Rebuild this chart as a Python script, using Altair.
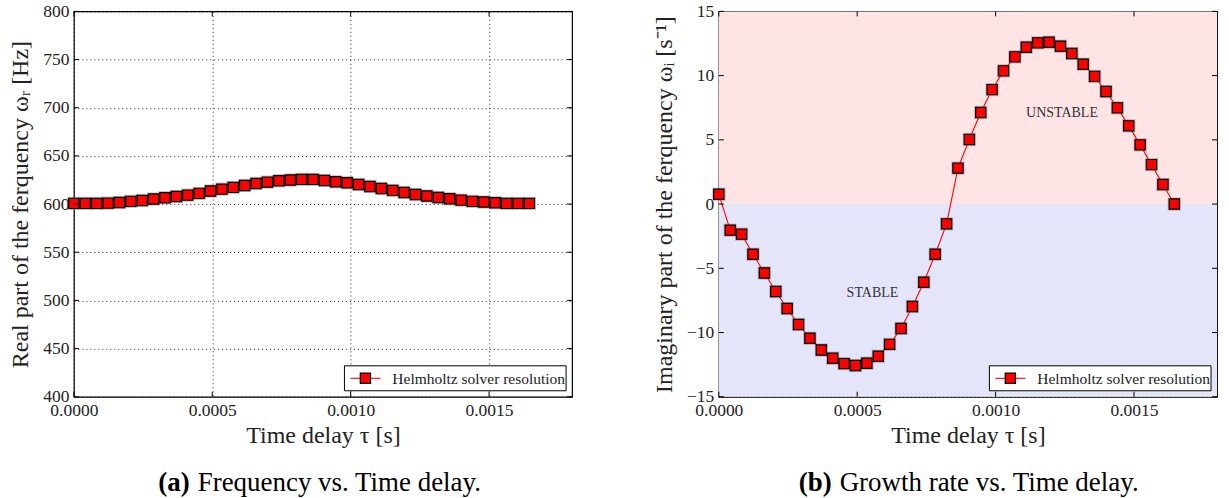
import altair as alt
import pandas as pd

# ---------------- data ----------------
tau = [0.0, 0.0000411, 0.0000823, 0.0001234, 0.0001646, 0.0002057, 0.0002469,
       0.0002880, 0.0003291, 0.0003703, 0.0004114, 0.0004526, 0.0004937,
       0.0005349, 0.0005760, 0.0006171, 0.0006583, 0.0006994, 0.0007406,
       0.0007817, 0.0008229, 0.0008640, 0.0009051, 0.0009463, 0.0009874,
       0.0010286, 0.0010697, 0.0011109, 0.0011520, 0.0011931, 0.0012343,
       0.0012754, 0.0013166, 0.0013577, 0.0013989, 0.0014400, 0.0014811,
       0.0015223, 0.0015634, 0.0016046, 0.0016457]

freq_real = [600.7, 600.7, 600.7, 601.0, 601.7, 602.8, 603.8, 605.2, 606.6,
             607.9, 609.3, 611.1, 613.5, 615.5, 617.3, 619.3, 621.4, 622.8,
             624.2, 624.9, 625.6, 625.6, 624.5, 623.1, 622.1, 620.4, 618.3,
             616.2, 614.2, 612.1, 610.0, 608.3, 606.9, 605.5, 604.1, 602.8,
             602.1, 601.4, 600.7, 600.7, 600.7]

growth = [0.76, -2.03, -2.34, -3.91, -5.36, -6.81, -8.13, -9.37, -10.45,
          -11.36, -12.0, -12.42, -12.57, -12.39, -11.85, -10.92, -9.68, -7.97,
          -6.08, -3.91, -1.54, 2.8, 5.03, 7.13, 8.91, 10.37, 11.46, 12.21,
          12.55, 12.6, 12.29, 11.72, 10.89, 9.94, 8.76, 7.49, 6.09, 4.61,
          3.07, 1.52, 0.0]

x_ticks = [0.0, 0.0005, 0.0010, 0.0015]
y_ticks_a = [400, 450, 500, 550, 600, 650, 700, 750, 800]
y_ticks_b = [-15, -10, -5, 0, 5, 10, 15]
legend_label = "Helmholtz solver resolution"
regions = [{"label": "UNSTABLE", "lo": 0, "hi": 15, "color": "#fee4e4",
            "tx": 0.00124, "ty": 7.1},
           {"label": "STABLE", "lo": -15, "hi": 0, "color": "#e5e5fa",
            "tx": 0.000555, "ty": -6.9}]

W, H = 499, 386
FONT = "Liberation Serif"
X_DOMAIN = [0, 0.0018]
cap_x_end = {"(a)": 116, "(b)": 113}


def panel(df, y_domain, y_ticks, y_title, cap_bold, cap_text, bg=None):
    xsc = alt.Scale(domain=X_DOMAIN, nice=False, zero=False)
    ysc = alt.Scale(domain=y_domain, nice=False, zero=False)
    xax = alt.Axis(values=x_ticks, format=".4f", title="Time delay τ [s]",
                   grid=True, ticks=False, domain=False, labelPadding=5,
                   titlePadding=4)
    yax = alt.Axis(values=y_ticks, format="d", title=y_title, grid=True,
                   ticks=False, domain=False, labelPadding=5, titlePadding=10)
    X = alt.X("tau:Q", scale=xsc, axis=xax)
    Y = alt.Y("val:Q", scale=ysc, axis=yax)

    layers = []
    if bg is not None:
        bgdf = pd.DataFrame(bg)
        layers.append(alt.Chart(bgdf).mark_rect().encode(
            x=alt.value(0), x2=alt.value(W),
            y=alt.Y("lo:Q", scale=ysc, axis=yax), y2="hi:Q",
            color=alt.Color("color:N", scale=None)))

    base = alt.Chart(df)
    line = base.mark_line(color="#ff0000", strokeWidth=1.1).encode(x=X, y=Y)
    halo = base.mark_point(shape="square", filled=True, size=175,
                           color="#777777", opacity=0.45).encode(x=X, y=Y)
    pts = base.mark_point(shape="square", filled=True, size=105,
                          fill="#ff0000", stroke="#000000", strokeWidth=1.2,
                          opacity=1).encode(x=X, y=Y)
    layers += [line, halo, pts]

    if bg is not None:
        layers.append(alt.Chart(pd.DataFrame(bg)).mark_text(
            font=FONT, fontSize=14, color="#333333").encode(
            x=alt.X("tx:Q", scale=xsc), y=alt.Y("ty:Q", scale=ysc),
            text="label:N"))

    # inward ticks (matplotlib classic style)
    xt = pd.DataFrame({"t": x_ticks})
    yt = pd.DataFrame({"t": y_ticks})
    for a, b in [(H, H - 5), (0, 5)]:
        layers.append(alt.Chart(xt).mark_rule(color="black", strokeWidth=1).encode(
            x=alt.X("t:Q", scale=xsc), y=alt.value(a), y2=alt.value(b)))
    for a, b in [(0, 5), (W, W - 5)]:
        layers.append(alt.Chart(yt).mark_rule(color="black", strokeWidth=1).encode(
            y=alt.Y("t:Q", scale=ysc), x=alt.value(a), x2=alt.value(b)))

    # legend box (lower right)
    one = pd.DataFrame({"k": [legend_label]})
    lx0, lx1, ly0, ly1 = 271, 493, 355, 380
    layers.append(alt.Chart(one).mark_rect(fill="white", stroke="black",
                                           strokeWidth=1).encode(
        x=alt.value(lx0), x2=alt.value(lx1), y=alt.value(ly0), y2=alt.value(ly1)))
    layers.append(alt.Chart(one).mark_rule(color="#ff0000", strokeWidth=1.1).encode(
        x=alt.value(lx0 + 6), x2=alt.value(lx0 + 36), y=alt.value((ly0 + ly1) / 2)))
    layers.append(alt.Chart(one).mark_point(shape="square", filled=True, size=105,
                                            fill="#ff0000", stroke="black",
                                            strokeWidth=1.2, opacity=1).encode(
        x=alt.value(lx0 + 21), y=alt.value((ly0 + ly1) / 2)))
    layers.append(alt.Chart(one).mark_text(font=FONT, fontSize=15.5, align="left",
                                           baseline="middle", color="#222222").encode(
        x=alt.value(lx0 + 48), y=alt.value((ly0 + ly1) / 2 + 1), text="k:N"))

    # caption
    cap = pd.DataFrame({"b": [cap_bold], "t": [cap_text]})
    layers.append(alt.Chart(cap).mark_text(font=FONT, fontSize=27, fontWeight="bold",
                                           align="right", baseline="middle",
                                           color="black").encode(
        x=alt.value(cap_x_end[cap_bold]), y=alt.value(472), text="b:N"))
    layers.append(alt.Chart(cap).mark_text(font=FONT, fontSize=27, align="left",
                                           baseline="middle", color="black").encode(
        x=alt.value(cap_x_end[cap_bold] + 8), y=alt.value(472), text="t:N"))

    return alt.layer(*layers).properties(width=W, height=H)


df_a = pd.DataFrame({"tau": tau, "val": freq_real})
df_b = pd.DataFrame({"tau": tau, "val": growth})

left = panel(df_a, [400, 800], y_ticks_a, "Real part of the ferquency ωᵣ [Hz]",
             "(a)", "Frequency vs. Time delay.")
right = panel(df_b, [-15, 15], y_ticks_b, "Imaginary part of the ferquency ωᵢ [s⁻¹]",
              "(b)", "Growth rate vs. Time delay.", bg=regions)

chart = alt.hconcat(left, right, spacing=147, bounds="flush").properties(
    padding={"left": 8, "top": 1, "right": 10, "bottom": 2},
    background="white",
).configure_view(stroke="black", strokeWidth=1.2).configure_axis(
    labelFont=FONT, titleFont=FONT, labelFontSize=17.5, titleFontSize=24,
    titleFontWeight="normal", labelColor="#222222", titleColor="#222222",
    gridColor="black", gridDash=[1, 3], gridWidth=1, gridOpacity=0.85,
).configure_axisX(labelFlush=False)

chart.save("out.html", embed_options={"renderer": "svg", "actions": False})
